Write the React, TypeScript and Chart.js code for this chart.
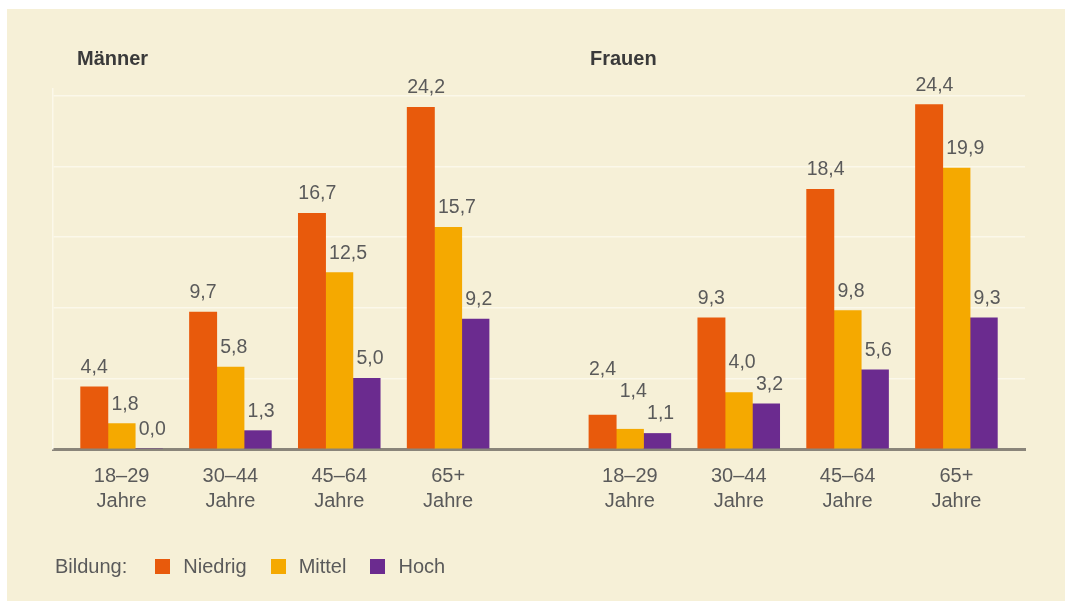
import React, { useEffect, useRef } from "react";
import { Chart, registerables } from "chart.js";

Chart.register(...registerables);

// Age groups (two-line tick labels) and the two panels
const ageGroups: string[][] = [
  ["18–29", "Jahre"],
  ["30–44", "Jahre"],
  ["45–64", "Jahre"],
  ["65+", "Jahre"],
];
const panels = ["Männer", "Frauen"];

// Education levels
const seriesNames = ["Niedrig", "Mittel", "Hoch"];
const seriesColors = ["#e85a0c", "#f5a900", "#6b2b8f"];

// Values per panel and education level
const maennerNiedrig = [4.4, 9.7, 16.7, 24.2];
const maennerMittel = [1.8, 5.8, 12.5, 15.7];
const maennerHoch = [0.0, 1.3, 5.0, 9.2];
const frauenNiedrig = [2.4, 9.3, 18.4, 24.4];
const frauenMittel = [1.4, 4.0, 9.8, 19.9];
const frauenHoch = [1.1, 3.2, 5.6, 9.3];

const yTicks = [0, 5, 10, 15, 20, 25];

const FONT = "'Liberation Sans', Arial, Helvetica, sans-serif";
const TEXT_GREY = "#5a5a5a";
const BG = "#f6f0d7";
const GRID = "#fbf8ea";

// Extra space (in group units) between the two panels
const PANEL_GAP = 0.67;
const groupX = (panel: number, i: number) => panel * (ageGroups.length + PANEL_GAP) + i;

const seriesByPanel = [
  [maennerNiedrig, maennerMittel, maennerHoch],
  [frauenNiedrig, frauenMittel, frauenHoch],
];

const tickPositions = panels.flatMap((_, p) => ageGroups.map((_, i) => groupX(p, i)));
const tickLabels = panels.flatMap(() => ageGroups);

const fmt = (v: number) => v.toFixed(1).replace(".", ",");

// Value labels above each bar; within a group a label is lifted when it
// would collide with the label of the bar to its right.
const LABEL_GAP = 14;
const LABEL_LINE = 22;
const valueLabels = {
  id: "valueLabels",
  afterDatasetsDraw(chart: any) {
    const ctx = chart.ctx;
    const n = chart.data.datasets.length;
    const metas = chart.data.datasets.map((_: any, di: number) => chart.getDatasetMeta(di));
    const count = metas[0].data.length;
    ctx.save();
    ctx.font = `19.5px ${FONT}`;
    ctx.fillStyle = TEXT_GREY;
    ctx.textAlign = "left";
    ctx.textBaseline = "alphabetic";
    for (let j = 0; j < count; j++) {
      const ys: number[] = [];
      for (let di = n - 1; di >= 0; di--) {
        const bar = metas[di].data[j];
        let y = bar.y - LABEL_GAP;
        if (di < n - 1 && y > ys[di + 1] - LABEL_LINE) y = ys[di + 1] - LABEL_LINE;
        ys[di] = y;
      }
      for (let di = 0; di < n; di++) {
        const bar = metas[di].data[j];
        const v = chart.data.datasets[di].data[j].y;
        const left = bar.x - bar.width / 2 + (di === 0 ? 0 : 3.5);
        ctx.fillText(fmt(v), left, ys[di]);
      }
    }
    ctx.restore();
  },
};

export default function App() {
  const canvasRef = useRef<HTMLCanvasElement | null>(null);

  useEffect(() => {
    if (!canvasRef.current) return;
    const datasets = seriesNames.map((name, s) => ({
      label: name,
      backgroundColor: seriesColors[s],
      borderWidth: 0,
      barThickness: 27.3,
      data: panels.flatMap((_, p) =>
        seriesByPanel[p][s].map((y, i) => ({ x: groupX(p, i), y }))
      ),
    }));

    const chart = new Chart(canvasRef.current, {
      type: "bar",
      data: { datasets },
      plugins: [valueLabels],
      options: {
        animation: false,
        responsive: true,
        maintainAspectRatio: false,
        events: [],
        layout: { padding: { left: 46, right: 40, top: 80, bottom: 0 } },
        plugins: {
          legend: { display: false },
          tooltip: { enabled: false },
          title: { display: false },
        },
        scales: {
          x: {
            type: "linear",
            min: -0.63,
            max: 8.3,
            offset: false,
            grid: { display: false, drawTicks: false },
            border: { display: true, color: "#8a857a", width: 3 },
            afterBuildTicks: (scale: any) => {
              scale.ticks = tickPositions.map((v) => ({ value: v }));
            },
            afterFit: (scale: any) => {
              scale.height = 152;
            },
            ticks: {
              autoSkip: false,
              maxRotation: 0,
              minRotation: 0,
              padding: 15,
              color: TEXT_GREY,
              font: { family: FONT, size: 20, lineHeight: 1.25 },
              callback: (_v: any, index: number) => tickLabels[index],
            },
          },
          y: {
            min: 0,
            max: 25.5,
            afterBuildTicks: (scale: any) => {
              scale.ticks = yTicks.map((v) => ({ value: v }));
            },
            afterFit: (scale: any) => {
              scale.width = 0;
            },
            ticks: { display: false },
            grid: { color: GRID, lineWidth: 1.5, drawTicks: false },
            border: { display: true, color: GRID, width: 1.5 },
          },
        },
      } as any,
    });
    return () => chart.destroy();
  }, []);

  const titleStyle: React.CSSProperties = {
    position: "absolute",
    fontFamily: FONT,
    fontWeight: "bold",
    fontSize: 20,
    lineHeight: "20px",
    color: "#3a3a3a",
    whiteSpace: "nowrap",
  };

  return (
    <div
      style={{
        position: "absolute",
        left: 7,
        top: 9,
        width: 1058,
        height: 592,
        background: BG,
        overflow: "hidden",
      }}
    >
      <div style={{ position: "absolute", left: 0, top: 0, width: 1058, height: 592 }}>
        <canvas ref={canvasRef} />
      </div>
      <span style={{ ...titleStyle, left: 70, top: 39 }}>{panels[0]}</span>
      <span style={{ ...titleStyle, left: 583, top: 38.5 }}>{panels[1]}</span>
      <div
        style={{
          position: "absolute",
          left: 48,
          top: 547,
          display: "flex",
          alignItems: "center",
          fontFamily: FONT,
          fontSize: 20,
          lineHeight: "20px",
          color: TEXT_GREY,
          whiteSpace: "nowrap",
        }}
      >
        <span style={{ marginRight: 28 }}>Bildung:</span>
        {seriesNames.map((name, s) => (
          <span
            key={name}
            style={{ display: "flex", alignItems: "center", marginRight: 24 }}
          >
            <span
              style={{
                display: "inline-block",
                width: 15,
                height: 15,
                background: seriesColors[s],
                marginRight: 13,
              }}
            />
            <span>{name}</span>
          </span>
        ))}
      </div>
    </div>
  );
}
